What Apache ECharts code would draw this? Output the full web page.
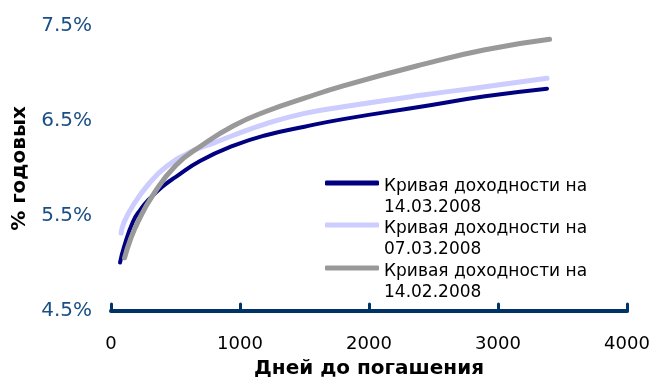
<!DOCTYPE html>
<html>
<head>
<meta charset="utf-8">
<script src="https://cdn.jsdelivr.net/npm/echarts@6/dist/echarts.min.js"></script>
<style>
  html, body { margin: 0; padding: 0; background: #fff; }
  #chart { width: 651px; height: 378px; }
</style>
</head>
<body>
<div id="chart"></div>
<script>
// Yield curves: days to maturity vs annual yield, %
const seriesNames = [
  'Кривая доходности на\n14.03.2008',
  'Кривая доходности на\n07.03.2008',
  'Кривая доходности на\n14.02.2008'
];

const days0314 = [70, 100, 170, 230, 290, 400, 500, 690, 950, 1200, 1500, 1800, 2400, 2900, 3380];
const yield0314 = [5.01, 5.17, 5.44, 5.57, 5.67, 5.81, 5.91, 6.08, 6.24, 6.35, 6.44, 6.52, 6.65, 6.76, 6.84];

const days0307 = [78, 100, 170, 300, 430, 610, 800, 950, 1200, 1500, 1800, 2400, 2900, 3380];
const yield0307 = [5.32, 5.43, 5.61, 5.85, 6.02, 6.17, 6.27, 6.35, 6.47, 6.58, 6.65, 6.77, 6.86, 6.95];

const days0214 = [105, 150, 210, 320, 500, 700, 950, 1200, 1500, 1800, 2400, 2900, 3400];
const yield0214 = [5.06, 5.25, 5.44, 5.71, 6.03, 6.24, 6.45, 6.60, 6.74, 6.87, 7.09, 7.25, 7.36];

const yTicks = [4.5, 5.5, 6.5, 7.5];
const xTicks = [0, 1000, 2000, 3000, 4000];

const colors = ['#000080', '#ccccff', '#999999'];
const widths = [4, 5, 5];
const FONT = 'DejaVu Sans';

function pairs(xs, ys) { return xs.map((x, i) => [x, ys[i]]); }
const dataSets = [pairs(days0314, yield0314), pairs(days0307, yield0307), pairs(days0214, yield0214)];

const chart = echarts.init(document.getElementById('chart'), null, { renderer: 'canvas' });

// each legend entry: key line sits beside the first text line
const legendTops = [157, 199, 242];

chart.setOption({
  animation: false,
  backgroundColor: '#ffffff',
  textStyle: { fontFamily: FONT },
  grid: { left: 111, right: 24, top: 26, bottom: 67, containLabel: false, outerBoundsMode: 'none' },
  legend: seriesNames.map((name, i) => ({
    data: [name],
    left: 325,
    top: legendTops[i],
    padding: 0,
    icon: 'roundRect',
    itemWidth: 54,
    itemHeight: 5,
    itemGap: 0,
    formatter: n => '{s| }\n' + n.split('\n').map(t => '{a|' + t + '}').join('\n'),
    textStyle: {
      fontFamily: FONT, fontSize: 17, color: '#000',
      rich: {
        s: { fontSize: 10, lineHeight: 29 },
        a: { fontFamily: FONT, fontSize: 17, color: '#000', lineHeight: 21 }
      }
    }
  })),
  xAxis: {
    type: 'value',
    min: xTicks[0],
    max: xTicks[xTicks.length - 1],
    interval: 1000,
    name: 'Дней до погашения',
    nameLocation: 'middle',
    nameGap: 48,
    nameTextStyle: { fontFamily: FONT, fontSize: 20, fontWeight: 'bold', color: '#000' },
    axisLine: { show: true, lineStyle: { color: '#003366', width: 4, cap: 'round' } },
    axisTick: { show: true, inside: true, length: 7, lineStyle: { color: '#003366', width: 3, cap: 'round' } },
    axisLabel: { fontFamily: FONT, fontSize: 18, color: '#000', margin: 24, formatter: v => String(v) },
    splitLine: { show: false }
  },
  yAxis: {
    type: 'value',
    min: yTicks[0],
    max: yTicks[yTicks.length - 1],
    interval: 1,
    name: '% годовых',
    nameLocation: 'middle',
    nameGap: 75,
    nameTextStyle: { fontFamily: FONT, fontSize: 20, fontWeight: 'bold', color: '#000' },
    axisLine: { show: false },
    axisTick: { show: false },
    axisLabel: {
      fontFamily: FONT, fontSize: 20, color: '#1a4f85', margin: 19,
      formatter: v => v.toFixed(1) + '%'
    },
    splitLine: { show: false }
  },
  series: dataSets.map((d, i) => ({
    name: seriesNames[i],
    type: 'line',
    data: d,
    smooth: true,
    showSymbol: false,
    symbol: 'none',
    color: colors[i],
    lineStyle: { color: colors[i], width: widths[i], cap: 'round', join: 'round' },
    z: 2 + i
  }))
});
</script>
</body>
</html>
